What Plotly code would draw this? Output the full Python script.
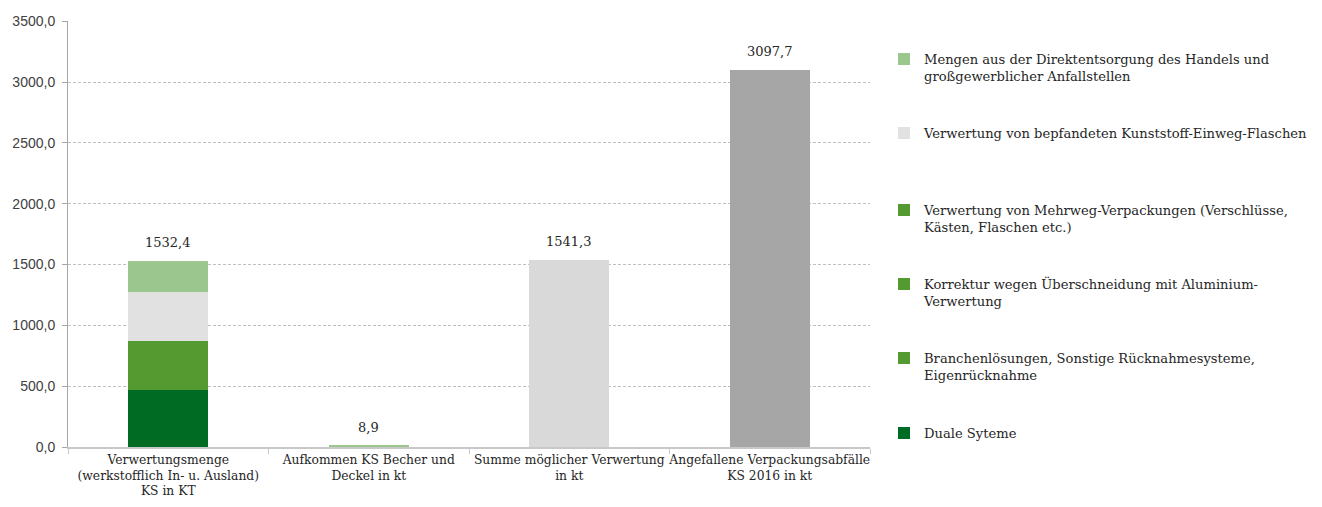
import plotly.graph_objects as go

categories = [
    "Verwertungsmenge<br>(werkstofflich In- u. Ausland)<br>KS in KT",
    "Aufkommen KS Becher und<br>Deckel in kt",
    "Summe möglicher Verwertung<br>in kt",
    "Angefallene Verpackungsabfälle<br>KS 2016 in kt",
]

# stacked components of the first bar (bottom to top)
series_names = [
    "Duale Syteme",
    "Branchenlösungen, Sonstige Rücknahmesysteme,<br>Eigenrücknahme",
    "Korrektur wegen Überschneidung mit Aluminium-<br>Verwertung",
    "Verwertung von Mehrweg-Verpackungen (Verschlüsse,<br>Kästen, Flaschen etc.)",
    "Verwertung von bepfandeten Kunststoff-Einweg-Flaschen",
    "Mengen aus der Direktentsorgung des Handels und<br>großgewerblicher Anfallstellen",
]
series_values = [468.0, 380.5, 8.0, 17.0, 403.5, 255.4]
series_colors = ["#006b22", "#559a30", "#559a30", "#559a30", "#e1e1e1", "#9bc78f"]

# other single bars
other_values = [8.9, 1541.3, 3097.7]
other_colors = ["#9bc78f", "#d9d9d9", "#a6a6a6"]

totals = [sum(series_values)] + other_values
total_labels = ["1532,4", "8,9", "1541,3", "3097,7"]

serif = "DejaVu Serif"

fig = go.Figure()

# legend slot positions (page pixel top of each entry), from top to bottom
legend_tops = [52, 126, 203, 277, 351, 426]
legend_ids = ["legend", "legend2", "legend3", "legend4", "legend5", "legend6"]

for i, (name, val, col) in enumerate(zip(series_names, series_values, series_colors)):
    slot = len(series_names) - 1 - i
    fig.add_trace(go.Bar(
        x=[categories[0]], y=[val], name=name,
        marker=dict(color=col, line=dict(width=0)),
        width=0.4, legend=legend_ids[slot], hoverinfo="y+name",
    ))

fig.add_trace(go.Bar(
    x=categories[1:], y=other_values, showlegend=False,
    marker=dict(color=other_colors, line=dict(width=0)), width=0.4,
))

for cat, tot, lab in zip(categories, totals, total_labels):
    fig.add_annotation(
        x=cat, y=tot, text=lab, showarrow=False,
        yanchor="bottom", yshift=9,
        font=dict(family=serif, size=13, color="#262626"),
    )

OFF = 8  # browser default body margin
W, H = 1322 - OFF, 507 - OFF
layout_legends = {}
for slot, lid in enumerate(legend_ids):
    layout_legends[lid] = dict(
        x=876 / W, xref="container", xanchor="left",
        y=1 - (legend_tops[slot] - 16) / H, yref="container", yanchor="top",
        bgcolor="rgba(0,0,0,0)", borderwidth=0,
        font=dict(family=serif, size=13.1, color="#262626"),
        valign="top", itemwidth=30,
    )

fig.update_layout(
    width=W, height=H,
    barmode="stack",
    bargap=0.6,
    separators=",.",
    paper_bgcolor="white", plot_bgcolor="white",
    margin=dict(l=68 - OFF, r=W - (870 - OFF), t=20.5 - OFF, b=H - (447.5 - OFF)),
    xaxis=dict(
        showline=True, linecolor="#c8c8c8", linewidth=1.5,
        ticks="outside", tickson="boundaries", ticklen=5, tickcolor="#c8c8c8",
        tickfont=dict(family=serif, size=12.3, color="#262626"),
        tickangle=0, automargin=False,
        showgrid=False,
    ),
    yaxis=dict(
        range=[0, 3502], tickvals=[0, 500, 1000, 1500, 2000, 2500, 3000, 3500],
        tickformat=".1f",
        showline=True, linecolor="#a6a6a6", linewidth=1,
        ticks="outside", ticklen=5, tickcolor="#a6a6a6",
        ticklabelstandoff=4,
        showgrid=True, gridcolor="#c0c0c0", griddash="3px,2px", gridwidth=1,
        tickfont=dict(family="Liberation Sans", size=14, color="#404040"),
        zeroline=False, automargin=False,
    ),
    **layout_legends,
)

fig.write_html("out.html")
